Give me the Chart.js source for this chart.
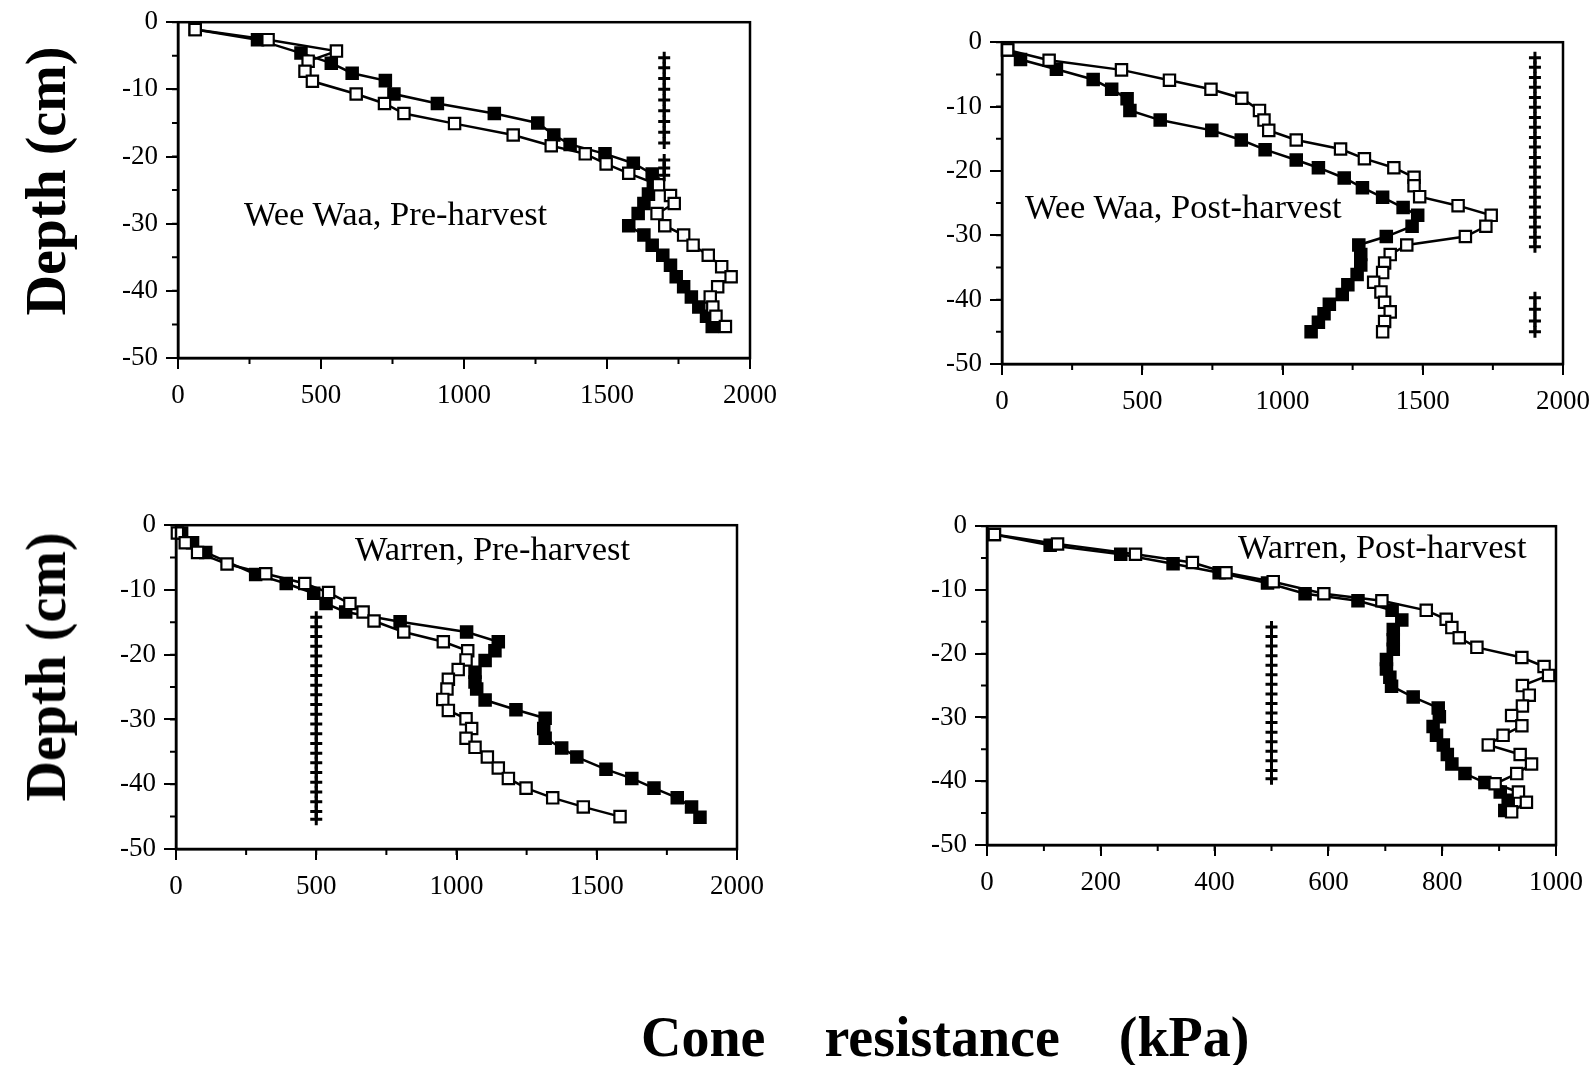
<!DOCTYPE html>
<html>
<head>
<meta charset="utf-8">
<script src="https://cdn.jsdelivr.net/npm/chart.js@4.4.1/dist/chart.umd.min.js"></script>
<style>
  body { margin:0; background:#fff; width:1595px; height:1065px; position:relative; overflow:hidden;
         font-family:"Liberation Serif","Times New Roman",serif; color:#000; }
  canvas { position:absolute; }
  .ttl { position:absolute; white-space:nowrap; font-size:34.5px; line-height:1; }
  .ax { position:absolute; white-space:pre; font-weight:bold; line-height:1; }
  .rot { transform:translate(-50%,-50%) rotate(-90deg); }
</style>
</head>
<body>
<canvas id="c1"></canvas>
<canvas id="c2"></canvas>
<canvas id="c3"></canvas>
<canvas id="c4"></canvas>

<div class="ttl" style="left:244px;top:196px">Wee Waa, Pre-harvest</div>
<div class="ttl" style="left:1025px;top:189px">Wee Waa, Post-harvest</div>
<div class="ttl" style="left:355px;top:531px">Warren, Pre-harvest</div>
<div class="ttl" style="left:1238px;top:529px">Warren, Post-harvest</div>

<div class="ax rot" style="left:46px;top:181px;font-size:56px">Depth (cm)</div>
<div class="ax rot" style="left:46px;top:667px;font-size:56px">Depth (cm)</div>
<div class="ax" style="left:641px;top:1009px;font-size:56px;word-spacing:45px">Cone resistance (kPa)</div>

<script>
// depth below surface (cm) and cone resistance (kPa); filled = solid squares, open = hollow squares
// Wee Waa, pre-harvest
const wwPreDepthFilled = [1.1,2.6,4.6,6.1,7.6,8.7,10.7,12.1,13.6,15.0,16.8,18.2,19.6,21.0,22.6,24.1,25.6,27.0,28.5,30.3,31.7,33.2,34.7,36.2,37.9,39.4,40.9,42.4,43.8,45.3];
const wwPreFilled = [60,278,430,536,609,725,755,907,1106,1258,1314,1371,1493,1592,1658,1662,1645,1629,1609,1576,1629,1658,1695,1722,1742,1768,1795,1821,1848,1868];
const wwPreDepthOpen = [1.1,2.6,4.3,5.8,7.3,8.8,10.7,12.1,13.6,15.1,16.8,18.4,19.6,21.1,22.5,24.2,25.8,27.0,28.5,30.3,31.7,33.2,34.7,36.4,37.9,39.4,40.9,42.4,43.8,45.3];
const wwPreOpen = [60,315,554,455,444,470,623,722,790,967,1172,1305,1424,1497,1576,1680,1722,1735,1675,1702,1768,1801,1854,1901,1934,1887,1861,1870,1881,1914];
const wwPreSigX = 1700;
const wwPreSig = [[5.3,6.8,8.4,10.0,11.6,13.2,14.8,16.4,18.0],[20.5,21.7,22.8]];

// Wee Waa, post-harvest
const wwPostDepthFilled = [1.2,2.7,4.2,5.8,7.3,8.8,10.6,12.1,13.7,15.2,16.7,18.3,19.5,21.1,22.6,24.1,25.7,26.9,28.6,30.2,31.5,33.0,34.6,36.1,37.7,39.2,40.7,42.2,43.5,45.0];
const wwPostFilled = [20,66,194,325,391,446,456,564,748,853,938,1049,1128,1220,1285,1357,1430,1482,1462,1370,1272,1279,1279,1266,1233,1213,1167,1148,1128,1102];
const wwPostDepthOpen = [1.2,2.8,4.3,5.9,7.3,8.7,10.6,12.1,13.7,15.2,16.6,18.1,19.5,21.0,22.3,24.0,25.4,26.9,28.6,30.2,31.5,33.0,34.3,35.8,37.3,38.8,40.4,41.9,43.4,45.0];
const wwPostOpen = [20,168,426,597,745,855,918,934,951,1049,1207,1292,1397,1469,1469,1489,1626,1744,1725,1652,1443,1384,1364,1357,1325,1351,1364,1384,1364,1357];
const wwPostSigX = 1900;
const wwPostSig = [[2.4,3.9,5.5,7.0,8.6,10.1,11.7,13.2,14.8,16.3,17.9,19.4,21.0,22.5,24.1,25.6,27.2,28.7,30.3,31.8],[39.7,41.5,43.3,45.0]];

// Warren, pre-harvest
const wPreDepthFilled = [1.2,2.7,4.2,7.6,9.0,10.5,12.1,13.4,14.9,16.5,18.0,19.4,20.9,22.7,24.2,25.3,27.0,28.5,29.8,31.4,32.9,34.4,35.8,37.7,39.1,40.6,42.1,43.5,45.1];
const wPreFilled = [20,59,106,284,393,491,535,605,799,1036,1149,1137,1102,1066,1066,1072,1102,1212,1316,1311,1316,1375,1429,1533,1625,1704,1787,1838,1868];
const wPreDepthOpen = [1.2,2.7,4.2,6.0,7.5,9.0,10.4,12.1,13.4,14.8,16.5,18.0,19.4,20.8,22.3,23.8,25.3,26.9,28.6,29.9,31.4,32.9,34.3,35.8,37.5,39.1,40.6,42.1,43.5,45.0];
const wPreOpen = [5,33,77,182,320,459,544,620,667,706,812,953,1040,1034,1006,971,966,951,971,1034,1054,1034,1066,1110,1149,1185,1248,1343,1452,1583];
const wPreSigX = 500;
const wPreSig = [[14.2,15.7,17.2,18.7,20.2,21.7,23.2,24.7,26.2,27.7,29.2,30.7,32.2,33.7,35.2,36.7,38.2,39.7,41.2,42.7,44.2,45.4]];

// Warren, post-harvest
const wPostDepthFilled = [1.3,3.0,4.4,5.9,7.3,8.9,10.6,11.7,13.2,14.7,16.2,17.8,19.3,20.9,22.4,23.7,25.1,26.8,28.5,29.9,31.4,32.8,34.3,35.8,37.3,38.8,40.2,41.7,43.0,44.6];
const wPostFilled = [13,111,235,327,408,493,559,652,712,729,714,714,714,702,702,708,711,749,793,795,784,790,802,809,817,840,875,902,916,910];
const wPostDepthOpen = [1.3,2.8,4.4,5.7,7.3,8.7,10.6,11.7,13.2,14.6,15.9,17.5,19.0,20.6,22.0,23.4,25.0,26.5,28.2,29.7,31.3,32.8,34.3,35.8,37.3,38.8,40.4,41.7,43.3,44.8];
const wPostOpen = [13,124,261,361,420,503,592,694,772,807,817,830,861,940,979,987,941,953,941,922,940,907,881,937,957,931,893,934,948,922];
const wPostSigX = 500;
const wPostSig = [[15.8,17.3,18.8,20.3,21.8,23.3,24.8,26.3,27.8,29.3,30.8,32.3,33.8,35.3,36.8,38.3,39.6]];

// axis ranges / tick steps
const depthMin = -50, depthStep = 10, depthMinor = 5;

// draws minor ticks and the box around each plot
const frameTicks = {
  id: 'frameTicks',
  afterDraw(chart, args, opts) {
    const {ctx, chartArea: a, scales: {x, y}} = chart;
    ctx.save();
    ctx.strokeStyle = '#000';
    ctx.lineWidth = 2;
    ctx.beginPath();
    for (let v = x.min; v <= x.max; v += opts.xMinor) {
      const px = x.getPixelForValue(v);
      ctx.moveTo(px, a.bottom); ctx.lineTo(px, a.bottom + 6);
    }
    for (let v = y.min; v <= y.max; v += opts.yMinor) {
      const py = y.getPixelForValue(v);
      ctx.moveTo(a.left, py); ctx.lineTo(a.left - 6, py);
    }
    ctx.stroke();
    ctx.lineWidth = 2.5;
    ctx.strokeRect(a.left, a.top, a.right - a.left, a.bottom - a.top);
    ctx.restore();
  }
};

function makeChart(id, box, xMax, xStep, xMinor, dF, vF, dO, vO, sigX, sig) {
  const cv = document.getElementById(id);
  const padL = 100, padT = 20, padR = 46, padB = 60;
  cv.width = box.w + padL + padR;
  cv.height = box.h + padT + padB;
  cv.style.left = (box.l - padL) + 'px';
  cv.style.top = (box.t - padT) + 'px';

  const datasets = [];
  sig.forEach(g => datasets.push({
    data: g.map(d => ({x: sigX, y: -d})),
    showLine: true, borderColor: '#000', borderWidth: 3,
    pointStyle: 'cross', pointRadius: 6, pointBorderWidth: 3, pointBorderColor: '#000'
  }));
  datasets.push({
    data: dO.map((d, i) => ({x: vO[i], y: -d})),
    showLine: true, borderColor: '#000', borderWidth: 2.5,
    pointStyle: 'rect', pointRadius: 8, pointBorderWidth: 2.2,
    pointBorderColor: '#000', pointBackgroundColor: '#fff'
  });
  datasets.push({
    data: dF.map((d, i) => ({x: vF[i], y: -d})),
    showLine: true, borderColor: '#000', borderWidth: 2.5,
    pointStyle: 'rect', pointRadius: 8, pointBorderWidth: 2.2,
    pointBorderColor: '#000', pointBackgroundColor: '#000'
  });

  const tickFont = {family: '"Liberation Serif", "Times New Roman", serif', size: 27};
  return new Chart(cv, {
    type: 'scatter',
    data: {datasets: datasets},
    options: {
      responsive: false,
      animation: false,
      devicePixelRatio: 1,
      clip: false,
      layout: {padding: {left: 0, top: padT, right: padR, bottom: 0}},
      plugins: {legend: {display: false}, tooltip: {enabled: false}, frameTicks: {xMinor: xMinor, yMinor: depthMinor}},
      scales: {
        x: {
          type: 'linear', min: 0, max: xMax,
          afterFit: s => { s.height = padB; },
          ticks: {stepSize: xStep, color: '#000', font: tickFont, padding: 11, maxRotation: 0, autoSkip: false,
                  callback: v => String(v)},
          grid: {drawOnChartArea: false, color: '#000', lineWidth: 2, tickLength: 11},
          border: {color: '#000', width: 2.5}
        },
        y: {
          type: 'linear', min: depthMin, max: 0,
          afterFit: s => { s.width = padL; },
          ticks: {stepSize: depthStep, color: '#000', font: tickFont, padding: 8,
                  callback: v => String(v)},
          grid: {drawOnChartArea: false, color: '#000', lineWidth: 2, tickLength: 12},
          border: {color: '#000', width: 2.5}
        }
      }
    },
    plugins: [frameTicks]
  });
}

makeChart('c1', {l: 178, t: 18, w: 572, h: 340}, 2000, 500, 250,
  wwPreDepthFilled, wwPreFilled, wwPreDepthOpen, wwPreOpen, wwPreSigX, wwPreSig);
makeChart('c2', {l: 1002, t: 38, w: 561, h: 326}, 2000, 500, 250,
  wwPostDepthFilled, wwPostFilled, wwPostDepthOpen, wwPostOpen, wwPostSigX, wwPostSig);
makeChart('c3', {l: 176, t: 521, w: 561, h: 328}, 2000, 500, 250,
  wPreDepthFilled, wPreFilled, wPreDepthOpen, wPreOpen, wPreSigX, wPreSig);
makeChart('c4', {l: 987, t: 522, w: 569, h: 323}, 1000, 200, 100,
  wPostDepthFilled, wPostFilled, wPostDepthOpen, wPostOpen, wPostSigX, wPostSig);
</script>
</body>
</html>
